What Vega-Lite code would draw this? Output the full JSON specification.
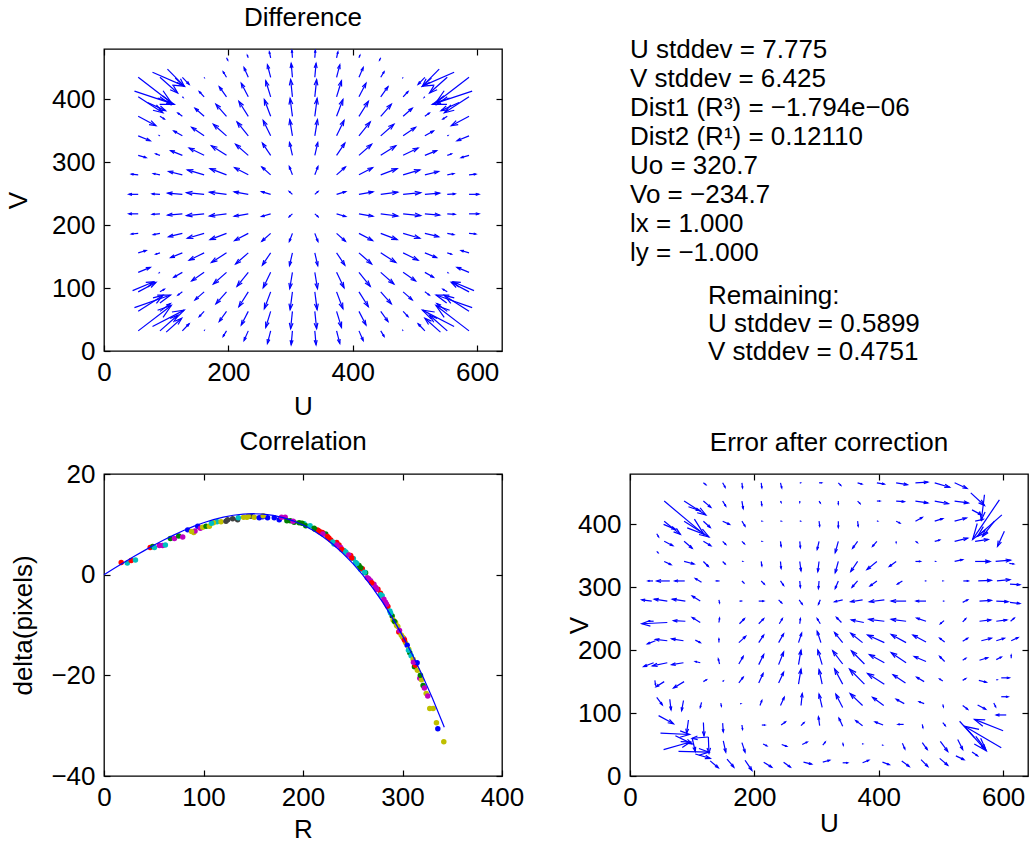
{
"$schema": "https://vega.github.io/schema/vega-lite/v6.json",
"background": "white",
"padding": {"left": 4, "top": 4, "right": 0, "bottom": 0},
"config": {
  "font": "Liberation Sans",
  "view": {"stroke": "black", "strokeWidth": 1.3},
  "axis": {"grid": false, "domain": false, "ticks": true, "tickSize": -6, "tickColor": "black", "tickWidth": 1.2, "labelFont": "Liberation Sans", "labelFontSize": 26, "labelColor": "black", "labelFlush": false, "labelOverlap": false, "titleFont": "Liberation Sans", "titleFontSize": 26, "titleFontWeight": "normal", "titleColor": "black"},
  "axisX": {"labelPadding": 14},
  "axisY": {"labelPadding": 15},
  "title": {"font": "Liberation Sans", "fontSize": 26, "fontWeight": "normal", "color": "black", "baseline": "alphabetic", "offset": 17, "frame": "group", "anchor": "middle"}
},
"datasets": {
"diff": [
{"x":303,"y":466,"x2":302.1,"y2":477.8},{"x":268,"y":466,"x2":265.9,"y2":475.3},{"x":232,"y":466,"x2":230.5,"y2":470},{"x":197,"y":466,"x2":198.9,"y2":462.4},{"x":339,"y":466,"x2":339.9,"y2":477.8},{"x":374,"y":466,"x2":376.1,"y2":475.3},{"x":410,"y":466,"x2":411.5,"y2":470},{"x":445,"y":466,"x2":443.1,"y2":462.4},
{"x":303,"y":435,"x2":301,"y2":457.1},{"x":268,"y":435,"x2":262.8,"y2":454.9},{"x":232,"y":435,"x2":225.2,"y2":450.4},{"x":197,"y":435,"x2":191.6,"y2":443.8},{"x":161,"y":435,"x2":161.2,"y2":434.7},{"x":126,"y":435,"x2":136.9,"y2":423.7},{"x":90,"y":435,"x2":118.5,"y2":410.1},{"x":55,"y":435,"x2":108.2,"y2":394.7},
{"x":339,"y":435,"x2":341,"y2":457.1},{"x":374,"y":435,"x2":379.2,"y2":454.9},{"x":410,"y":435,"x2":416.8,"y2":450.4},{"x":445,"y":435,"x2":450.4,"y2":443.8},{"x":481,"y":435,"x2":480.8,"y2":434.7},{"x":516,"y":435,"x2":505.1,"y2":423.7},{"x":552,"y":435,"x2":523.5,"y2":410.1},{"x":587,"y":435,"x2":533.8,"y2":394.7},
{"x":303,"y":404,"x2":300.1,"y2":431.4},{"x":268,"y":404,"x2":260.1,"y2":429.5},{"x":232,"y":404,"x2":220.7,"y2":425.7},{"x":197,"y":404,"x2":185.3,"y2":420.1},{"x":161,"y":404,"x2":153.1,"y2":412.4},{"x":126,"y":404,"x2":127,"y2":403.1},{"x":90,"y":404,"x2":106.8,"y2":391.6},{"x":55,"y":404,"x2":94.7,"y2":378.6},
{"x":339,"y":404,"x2":341.9,"y2":431.4},{"x":374,"y":404,"x2":381.9,"y2":429.5},{"x":410,"y":404,"x2":421.3,"y2":425.7},{"x":445,"y":404,"x2":456.7,"y2":420.1},{"x":481,"y":404,"x2":488.9,"y2":412.4},{"x":516,"y":404,"x2":515,"y2":403.1},{"x":552,"y":404,"x2":535.2,"y2":391.6},{"x":587,"y":404,"x2":547.3,"y2":378.6},
{"x":303,"y":373,"x2":299.3,"y2":401.3},{"x":268,"y":373,"x2":257.8,"y2":399.8},{"x":232,"y":373,"x2":216.9,"y2":396.6},{"x":197,"y":373,"x2":180,"y2":392.1},{"x":161,"y":373,"x2":146.3,"y2":385.8},{"x":126,"y":373,"x2":118.8,"y2":378.2},{"x":90,"y":373,"x2":97,"y2":368.8},{"x":55,"y":373,"x2":83.5,"y2":358.1},
{"x":339,"y":373,"x2":342.7,"y2":401.3},{"x":374,"y":373,"x2":384.2,"y2":399.8},{"x":410,"y":373,"x2":425.1,"y2":396.6},{"x":445,"y":373,"x2":462,"y2":392.1},{"x":481,"y":373,"x2":495.7,"y2":385.8},{"x":516,"y":373,"x2":523.2,"y2":378.2},{"x":552,"y":373,"x2":545,"y2":368.8},{"x":587,"y":373,"x2":558.5,"y2":358.1},
{"x":303,"y":342,"x2":298.7,"y2":367.7},{"x":268,"y":342,"x2":256,"y2":366.5},{"x":232,"y":342,"x2":213.9,"y2":364.1},{"x":197,"y":342,"x2":175.8,"y2":360.5},{"x":161,"y":342,"x2":140.9,"y2":355.6},{"x":126,"y":342,"x2":112.2,"y2":349.7},{"x":90,"y":342,"x2":89.2,"y2":342.4},{"x":55,"y":342,"x2":74.4,"y2":334.1},
{"x":339,"y":342,"x2":343.3,"y2":367.7},{"x":374,"y":342,"x2":386,"y2":366.5},{"x":410,"y":342,"x2":428.1,"y2":364.1},{"x":445,"y":342,"x2":466.2,"y2":360.5},{"x":481,"y":342,"x2":501.1,"y2":355.6},{"x":516,"y":342,"x2":529.8,"y2":349.7},{"x":552,"y":342,"x2":552.8,"y2":342.4},{"x":587,"y":342,"x2":567.6,"y2":334.1},
{"x":303,"y":311,"x2":298.3,"y2":331.3},{"x":268,"y":311,"x2":254.7,"y2":330.5},{"x":232,"y":311,"x2":211.6,"y2":328.7},{"x":197,"y":311,"x2":172.7,"y2":326.2},{"x":161,"y":311,"x2":136.9,"y2":322.7},{"x":126,"y":311,"x2":107.2,"y2":318.5},{"x":90,"y":311,"x2":83.3,"y2":313.2},{"x":55,"y":311,"x2":67.7,"y2":307.3},
{"x":339,"y":311,"x2":343.7,"y2":331.3},{"x":374,"y":311,"x2":387.3,"y2":330.5},{"x":410,"y":311,"x2":430.4,"y2":328.7},{"x":445,"y":311,"x2":469.3,"y2":326.2},{"x":481,"y":311,"x2":505.1,"y2":322.7},{"x":516,"y":311,"x2":534.8,"y2":318.5},{"x":552,"y":311,"x2":558.7,"y2":313.2},{"x":587,"y":311,"x2":574.3,"y2":307.3},
{"x":303,"y":280,"x2":298,"y2":293},{"x":268,"y":280,"x2":253.8,"y2":292.5},{"x":232,"y":280,"x2":210.1,"y2":291.4},{"x":197,"y":280,"x2":170.6,"y2":289.9},{"x":161,"y":280,"x2":134.1,"y2":287.8},{"x":126,"y":280,"x2":103.9,"y2":285.3},{"x":90,"y":280,"x2":79.4,"y2":282.1},{"x":55,"y":280,"x2":44,"y2":281},
{"x":339,"y":280,"x2":344,"y2":293},{"x":374,"y":280,"x2":388.2,"y2":292.5},{"x":410,"y":280,"x2":431.9,"y2":291.4},{"x":445,"y":280,"x2":471.4,"y2":289.9},{"x":481,"y":280,"x2":507.9,"y2":287.8},{"x":516,"y":280,"x2":538.1,"y2":285.3},{"x":552,"y":280,"x2":562.6,"y2":282.1},{"x":587,"y":280,"x2":598,"y2":281},
{"x":303,"y":249,"x2":297.8,"y2":253.5},{"x":268,"y":249,"x2":253.3,"y2":253.3},{"x":232,"y":249,"x2":209.4,"y2":252.9},{"x":197,"y":249,"x2":169.6,"y2":252.4},{"x":161,"y":249,"x2":132.8,"y2":251.7},{"x":126,"y":249,"x2":102.3,"y2":250.9},{"x":90,"y":249,"x2":77.5,"y2":249.8},{"x":55,"y":249,"x2":40,"y2":249},
{"x":339,"y":249,"x2":344.2,"y2":253.5},{"x":374,"y":249,"x2":388.7,"y2":253.3},{"x":410,"y":249,"x2":432.6,"y2":252.9},{"x":445,"y":249,"x2":472.4,"y2":252.4},{"x":481,"y":249,"x2":509.2,"y2":251.7},{"x":516,"y":249,"x2":539.7,"y2":250.9},{"x":552,"y":249,"x2":564.5,"y2":249.8},{"x":587,"y":249,"x2":603,"y2":249},
{"x":303,"y":218,"x2":297.8,"y2":213.5},{"x":268,"y":218,"x2":253.3,"y2":213.7},{"x":232,"y":218,"x2":209.4,"y2":214.1},{"x":197,"y":218,"x2":169.6,"y2":214.6},{"x":161,"y":218,"x2":132.8,"y2":215.3},{"x":126,"y":218,"x2":102.3,"y2":216.1},{"x":90,"y":218,"x2":77.5,"y2":217.2},{"x":55,"y":218,"x2":40,"y2":218},
{"x":339,"y":218,"x2":344.2,"y2":213.5},{"x":374,"y":218,"x2":388.7,"y2":213.7},{"x":410,"y":218,"x2":432.6,"y2":214.1},{"x":445,"y":218,"x2":472.4,"y2":214.6},{"x":481,"y":218,"x2":509.2,"y2":215.3},{"x":516,"y":218,"x2":539.7,"y2":216.1},{"x":552,"y":218,"x2":564.5,"y2":217.2},{"x":587,"y":218,"x2":603,"y2":218},
{"x":303,"y":187,"x2":298,"y2":174},{"x":268,"y":187,"x2":253.8,"y2":174.5},{"x":232,"y":187,"x2":210.1,"y2":175.6},{"x":197,"y":187,"x2":170.6,"y2":177.1},{"x":161,"y":187,"x2":134.1,"y2":179.2},{"x":126,"y":187,"x2":103.9,"y2":181.7},{"x":90,"y":187,"x2":79.4,"y2":184.9},{"x":55,"y":187,"x2":44,"y2":186},
{"x":339,"y":187,"x2":344,"y2":174},{"x":374,"y":187,"x2":388.2,"y2":174.5},{"x":410,"y":187,"x2":431.9,"y2":175.6},{"x":445,"y":187,"x2":471.4,"y2":177.1},{"x":481,"y":187,"x2":507.9,"y2":179.2},{"x":516,"y":187,"x2":538.1,"y2":181.7},{"x":552,"y":187,"x2":562.6,"y2":184.9},{"x":587,"y":187,"x2":598,"y2":186},
{"x":303,"y":156,"x2":298.3,"y2":135.7},{"x":268,"y":156,"x2":254.7,"y2":136.5},{"x":232,"y":156,"x2":211.6,"y2":138.3},{"x":197,"y":156,"x2":172.7,"y2":140.8},{"x":161,"y":156,"x2":136.9,"y2":144.3},{"x":126,"y":156,"x2":107.2,"y2":148.5},{"x":90,"y":156,"x2":83.3,"y2":153.8},{"x":55,"y":156,"x2":67.7,"y2":159.7},
{"x":339,"y":156,"x2":343.7,"y2":135.7},{"x":374,"y":156,"x2":387.3,"y2":136.5},{"x":410,"y":156,"x2":430.4,"y2":138.3},{"x":445,"y":156,"x2":469.3,"y2":140.8},{"x":481,"y":156,"x2":505.1,"y2":144.3},{"x":516,"y":156,"x2":534.8,"y2":148.5},{"x":552,"y":156,"x2":558.7,"y2":153.8},{"x":587,"y":156,"x2":574.3,"y2":159.7},
{"x":303,"y":125,"x2":298.7,"y2":99.3},{"x":268,"y":125,"x2":256,"y2":100.5},{"x":232,"y":125,"x2":213.9,"y2":102.9},{"x":197,"y":125,"x2":175.8,"y2":106.5},{"x":161,"y":125,"x2":140.9,"y2":111.4},{"x":126,"y":125,"x2":112.2,"y2":117.3},{"x":90,"y":125,"x2":89.2,"y2":124.6},{"x":55,"y":125,"x2":74.4,"y2":132.9},
{"x":339,"y":125,"x2":343.3,"y2":99.3},{"x":374,"y":125,"x2":386,"y2":100.5},{"x":410,"y":125,"x2":428.1,"y2":102.9},{"x":445,"y":125,"x2":466.2,"y2":106.5},{"x":481,"y":125,"x2":501.1,"y2":111.4},{"x":516,"y":125,"x2":529.8,"y2":117.3},{"x":552,"y":125,"x2":552.8,"y2":124.6},{"x":587,"y":125,"x2":567.6,"y2":132.9},
{"x":303,"y":94,"x2":299.3,"y2":65.7},{"x":268,"y":94,"x2":257.8,"y2":67.2},{"x":232,"y":94,"x2":216.9,"y2":70.4},{"x":197,"y":94,"x2":180,"y2":74.9},{"x":161,"y":94,"x2":146.3,"y2":81.2},{"x":126,"y":94,"x2":118.8,"y2":88.8},{"x":90,"y":94,"x2":97,"y2":98.2},{"x":55,"y":94,"x2":83.5,"y2":108.9},
{"x":339,"y":94,"x2":342.7,"y2":65.7},{"x":374,"y":94,"x2":384.2,"y2":67.2},{"x":410,"y":94,"x2":425.1,"y2":70.4},{"x":445,"y":94,"x2":462,"y2":74.9},{"x":481,"y":94,"x2":495.7,"y2":81.2},{"x":516,"y":94,"x2":523.2,"y2":88.8},{"x":552,"y":94,"x2":545,"y2":98.2},{"x":587,"y":94,"x2":558.5,"y2":108.9},
{"x":303,"y":63,"x2":300.1,"y2":35.6},{"x":268,"y":63,"x2":260.1,"y2":37.5},{"x":232,"y":63,"x2":220.7,"y2":41.3},{"x":197,"y":63,"x2":185.3,"y2":46.9},{"x":161,"y":63,"x2":153.1,"y2":54.6},{"x":126,"y":63,"x2":127,"y2":63.9},{"x":90,"y":63,"x2":106.8,"y2":75.4},{"x":55,"y":63,"x2":94.7,"y2":88.4},
{"x":339,"y":63,"x2":341.9,"y2":35.6},{"x":374,"y":63,"x2":381.9,"y2":37.5},{"x":410,"y":63,"x2":421.3,"y2":41.3},{"x":445,"y":63,"x2":456.7,"y2":46.9},{"x":481,"y":63,"x2":488.9,"y2":54.6},{"x":516,"y":63,"x2":515,"y2":63.9},{"x":552,"y":63,"x2":535.2,"y2":75.4},{"x":587,"y":63,"x2":547.3,"y2":88.4},
{"x":303,"y":32,"x2":301,"y2":9.9},{"x":268,"y":32,"x2":262.8,"y2":12.1},{"x":232,"y":32,"x2":225.2,"y2":16.6},{"x":197,"y":32,"x2":191.6,"y2":23.2},{"x":161,"y":32,"x2":161.2,"y2":32.3},{"x":126,"y":32,"x2":136.9,"y2":43.3},{"x":90,"y":32,"x2":118.5,"y2":56.9},{"x":55,"y":32,"x2":108.2,"y2":72.3},
{"x":339,"y":32,"x2":341,"y2":9.9},{"x":374,"y":32,"x2":379.2,"y2":12.1},{"x":410,"y":32,"x2":416.8,"y2":16.6},{"x":445,"y":32,"x2":450.4,"y2":23.2},{"x":481,"y":32,"x2":480.8,"y2":32.3},{"x":516,"y":32,"x2":505.1,"y2":43.3},{"x":552,"y":32,"x2":523.5,"y2":56.9},{"x":587,"y":32,"x2":533.8,"y2":72.3},
{"x":78,"y":443,"x2":129,"y2":421},{"x":102,"y":448,"x2":129,"y2":421},{"x":49,"y":413,"x2":113,"y2":392},{"x":70,"y":395,"x2":99,"y2":382},
{"x":563,"y":443,"x2":512,"y2":421},{"x":539,"y":448,"x2":512,"y2":421},{"x":592,"y":413,"x2":528,"y2":392},{"x":571,"y":395,"x2":542,"y2":382},
{"x":78,"y":39,"x2":129,"y2":65},{"x":49,"y":69,"x2":107,"y2":89},{"x":46,"y":96,"x2":80,"y2":110},{"x":100,"y":30,"x2":125,"y2":52},
{"x":563,"y":39,"x2":512,"y2":65},{"x":592,"y":69,"x2":534,"y2":89},{"x":595,"y":96,"x2":561,"y2":110},{"x":541,"y":30,"x2":516,"y2":52}
],
"err": [
{"x":118,"y":466,"x2":122,"y2":463},{"x":149,"y":466,"x2":153,"y2":459},{"x":180,"y":466,"x2":181,"y2":458},{"x":211,"y":466,"x2":212,"y2":458},{"x":242,"y":466,"x2":244,"y2":458},{"x":273,"y":466,"x2":274,"y2":466},{"x":304,"y":466,"x2":308,"y2":466},{"x":335,"y":466,"x2":339,"y2":462},{"x":366,"y":466,"x2":373,"y2":464},{"x":397,"y":466,"x2":409,"y2":464},{"x":428,"y":466,"x2":446,"y2":463},{"x":459,"y":466,"x2":479,"y2":467},{"x":490,"y":466,"x2":514,"y2":459},{"x":522,"y":466,"x2":542,"y2":457},{"x":548,"y":450,"x2":570,"y2":430},
{"x":55,"y":437,"x2":119,"y2":384},{"x":87,"y":437,"x2":122,"y2":415},{"x":118,"y":437,"x2":130,"y2":427},{"x":149,"y":437,"x2":154,"y2":429},{"x":180,"y":437,"x2":182,"y2":425},{"x":211,"y":437,"x2":212,"y2":430},{"x":242,"y":437,"x2":243,"y2":435},{"x":273,"y":437,"x2":273,"y2":435},{"x":304,"y":437,"x2":306,"y2":434},{"x":335,"y":437,"x2":335,"y2":432},{"x":366,"y":437,"x2":370,"y2":433},{"x":397,"y":437,"x2":402,"y2":437},{"x":428,"y":437,"x2":441,"y2":436},{"x":459,"y":437,"x2":479,"y2":434},{"x":490,"y":437,"x2":512,"y2":433},{"x":522,"y":437,"x2":544,"y2":434},{"x":570,"y":447,"x2":565,"y2":407},{"x":594,"y":439,"x2":551,"y2":376},{"x":550,"y":423,"x2":565,"y2":415},
{"x":55,"y":405,"x2":81,"y2":384},{"x":87,"y":405,"x2":127,"y2":380},{"x":118,"y":405,"x2":129,"y2":395},{"x":149,"y":405,"x2":160,"y2":400},{"x":180,"y":405,"x2":185,"y2":397},{"x":211,"y":405,"x2":212,"y2":405},{"x":242,"y":405,"x2":243,"y2":405},{"x":273,"y":405,"x2":274,"y2":405},{"x":304,"y":405,"x2":305,"y2":397},{"x":335,"y":405,"x2":335,"y2":395},{"x":366,"y":405,"x2":367,"y2":397},{"x":397,"y":405,"x2":398,"y2":405},{"x":428,"y":405,"x2":434,"y2":402},{"x":459,"y":405,"x2":470,"y2":411},{"x":490,"y":405,"x2":503,"y2":409},{"x":522,"y":405,"x2":541,"y2":410},{"x":555,"y":405,"x2":568,"y2":408},{"x":598,"y":415,"x2":559,"y2":381},{"x":586,"y":405,"x2":567,"y2":381},{"x":54,"y":400,"x2":73,"y2":392},{"x":94,"y":428,"x2":112,"y2":422},
{"x":43,"y":385,"x2":46,"y2":380},{"x":55,"y":373,"x2":69,"y2":366},{"x":87,"y":373,"x2":100,"y2":362},{"x":118,"y":373,"x2":130,"y2":366},{"x":149,"y":373,"x2":154,"y2":368},{"x":180,"y":373,"x2":184,"y2":369},{"x":211,"y":373,"x2":212,"y2":373},{"x":242,"y":373,"x2":243,"y2":365},{"x":273,"y":373,"x2":274,"y2":363},{"x":304,"y":373,"x2":301,"y2":360},{"x":335,"y":373,"x2":330,"y2":355},{"x":366,"y":373,"x2":358,"y2":362},{"x":397,"y":373,"x2":390,"y2":365},{"x":428,"y":373,"x2":428,"y2":371},{"x":459,"y":373,"x2":462,"y2":371},{"x":490,"y":373,"x2":498,"y2":375},{"x":522,"y":373,"x2":543,"y2":378},{"x":555,"y":373,"x2":576,"y2":376},{"x":602,"y":389,"x2":591,"y2":365},
{"x":43,"y":357,"x2":45,"y2":355},{"x":55,"y":341,"x2":66,"y2":336},{"x":87,"y":341,"x2":103,"y2":337},{"x":118,"y":341,"x2":126,"y2":333},{"x":149,"y":341,"x2":153,"y2":337},{"x":180,"y":341,"x2":181,"y2":341},{"x":211,"y":341,"x2":212,"y2":334},{"x":242,"y":341,"x2":243,"y2":330},{"x":273,"y":341,"x2":275,"y2":326},{"x":304,"y":341,"x2":302,"y2":325},{"x":335,"y":341,"x2":330,"y2":323},{"x":366,"y":341,"x2":355,"y2":325},{"x":397,"y":341,"x2":381,"y2":328},{"x":428,"y":341,"x2":417,"y2":333},{"x":459,"y":341,"x2":467,"y2":341},{"x":490,"y":341,"x2":491,"y2":341},{"x":522,"y":341,"x2":535,"y2":344},{"x":555,"y":341,"x2":579,"y2":341},{"x":588,"y":341,"x2":612,"y2":343},{"x":610,"y":338,"x2":617,"y2":337},
{"x":37,"y":310,"x2":29,"y2":310},{"x":64,"y":310,"x2":43,"y2":310},{"x":88,"y":310,"x2":72,"y2":310},{"x":115,"y":308,"x2":105,"y2":314},{"x":144,"y":310,"x2":139,"y2":310},{"x":180,"y":310,"x2":183,"y2":307},{"x":211,"y":310,"x2":216,"y2":305},{"x":242,"y":310,"x2":247,"y2":303},{"x":273,"y":310,"x2":274,"y2":300},{"x":304,"y":310,"x2":303,"y2":298},{"x":335,"y":310,"x2":330,"y2":298},{"x":366,"y":310,"x2":357,"y2":300},{"x":397,"y":310,"x2":386,"y2":302},{"x":438,"y":310,"x2":430,"y2":305},{"x":474,"y":310,"x2":475,"y2":310},{"x":502,"y":310,"x2":503,"y2":310},{"x":536,"y":310,"x2":544,"y2":310},{"x":560,"y":310,"x2":581,"y2":311},{"x":590,"y":310,"x2":611,"y2":312},{"x":611,"y":305,"x2":627,"y2":304},
{"x":35,"y":278,"x2":19,"y2":280},{"x":60,"y":278,"x2":39,"y2":281},{"x":89,"y":278,"x2":68,"y2":281},{"x":113,"y":278,"x2":100,"y2":286},{"x":143,"y":280,"x2":144,"y2":275},{"x":176,"y":278,"x2":179,"y2":278},{"x":207,"y":278,"x2":215,"y2":278},{"x":239,"y":280,"x2":244,"y2":275},{"x":272,"y":280,"x2":277,"y2":273},{"x":306,"y":280,"x2":303,"y2":273},{"x":342,"y":280,"x2":329,"y2":277},{"x":374,"y":280,"x2":355,"y2":277},{"x":409,"y":280,"x2":385,"y2":277},{"x":444,"y":278,"x2":420,"y2":278},{"x":476,"y":278,"x2":460,"y2":278},{"x":503,"y":278,"x2":504,"y2":278},{"x":535,"y":276,"x2":543,"y2":280},{"x":562,"y":278,"x2":581,"y2":279},{"x":589,"y":278,"x2":608,"y2":277},{"x":611,"y":276,"x2":627,"y2":274},
{"x":60,"y":244,"x2":19,"y2":242},{"x":38,"y":246,"x2":30,"y2":246},{"x":89,"y":246,"x2":70,"y2":247},{"x":113,"y":244,"x2":100,"y2":252},{"x":143,"y":244,"x2":144,"y2":251},{"x":176,"y":242,"x2":184,"y2":250},{"x":207,"y":242,"x2":215,"y2":250},{"x":240,"y":242,"x2":245,"y2":250},{"x":273,"y":242,"x2":274,"y2":250},{"x":306,"y":242,"x2":301,"y2":250},{"x":340,"y":244,"x2":332,"y2":252},{"x":376,"y":244,"x2":356,"y2":248},{"x":409,"y":246,"x2":384,"y2":249},{"x":444,"y":246,"x2":420,"y2":249},{"x":476,"y":246,"x2":461,"y2":251},{"x":505,"y":247,"x2":499,"y2":242},{"x":535,"y":245,"x2":540,"y2":250},{"x":562,"y":246,"x2":580,"y2":248},{"x":589,"y":246,"x2":606,"y2":248},{"x":612,"y":246,"x2":618,"y2":251},
{"x":41,"y":215,"x2":28,"y2":210},{"x":60,"y":215,"x2":41,"y2":217},{"x":86,"y":215,"x2":67,"y2":218},{"x":105,"y":216,"x2":113,"y2":212},{"x":143,"y":212,"x2":143,"y2":218},{"x":175,"y":212,"x2":186,"y2":222},{"x":207,"y":212,"x2":215,"y2":224},{"x":239,"y":212,"x2":247,"y2":226},{"x":271,"y":212,"x2":276,"y2":227},{"x":307,"y":212,"x2":301,"y2":230},{"x":342,"y":212,"x2":329,"y2":228},{"x":374,"y":212,"x2":355,"y2":227},{"x":409,"y":212,"x2":382,"y2":224},{"x":444,"y":212,"x2":420,"y2":225},{"x":476,"y":213,"x2":455,"y2":224},{"x":506,"y":213,"x2":498,"y2":219},{"x":535,"y":214,"x2":543,"y2":219},{"x":565,"y":215,"x2":581,"y2":219},{"x":589,"y":215,"x2":602,"y2":219},{"x":613,"y":215,"x2":624,"y2":220},
{"x":38,"y":180,"x2":22,"y2":174},{"x":60,"y":180,"x2":36,"y2":175},{"x":86,"y":180,"x2":67,"y2":177},{"x":113,"y":180,"x2":105,"y2":182},{"x":144,"y":178,"x2":142,"y2":186},{"x":175,"y":178,"x2":182,"y2":190},{"x":207,"y":177,"x2":215,"y2":193},{"x":239,"y":177,"x2":247,"y2":197},{"x":271,"y":177,"x2":275,"y2":200},{"x":309,"y":177,"x2":302,"y2":200},{"x":342,"y":178,"x2":326,"y2":199},{"x":377,"y":178,"x2":356,"y2":199},{"x":409,"y":180,"x2":385,"y2":193},{"x":444,"y":180,"x2":420,"y2":196},{"x":476,"y":182,"x2":457,"y2":190},{"x":506,"y":182,"x2":498,"y2":190},{"x":535,"y":184,"x2":540,"y2":187},{"x":562,"y":184,"x2":575,"y2":188},{"x":589,"y":185,"x2":597,"y2":189},{"x":613,"y":187,"x2":613,"y2":192},
{"x":40,"y":152,"x2":41,"y2":145},{"x":55,"y":150,"x2":42,"y2":142},{"x":87,"y":150,"x2":70,"y2":140},{"x":118,"y":150,"x2":123,"y2":153},{"x":149,"y":150,"x2":150,"y2":151},{"x":175,"y":148,"x2":182,"y2":157},{"x":207,"y":148,"x2":214,"y2":163},{"x":239,"y":148,"x2":247,"y2":165},{"x":271,"y":146,"x2":275,"y2":170},{"x":309,"y":146,"x2":304,"y2":169},{"x":342,"y":146,"x2":329,"y2":170},{"x":377,"y":146,"x2":353,"y2":170},{"x":409,"y":146,"x2":382,"y2":163},{"x":443,"y":148,"x2":423,"y2":161},{"x":473,"y":150,"x2":461,"y2":157},{"x":503,"y":151,"x2":498,"y2":154},{"x":535,"y":152,"x2":540,"y2":155},{"x":561,"y":152,"x2":573,"y2":149},{"x":589,"y":153,"x2":590,"y2":153},{"x":597,"y":156,"x2":610,"y2":156},
{"x":43,"y":125,"x2":52,"y2":113},{"x":64,"y":122,"x2":66,"y2":105},{"x":86,"y":120,"x2":83,"y2":104},{"x":115,"y":117,"x2":113,"y2":109},{"x":146,"y":116,"x2":147,"y2":111},{"x":177,"y":115,"x2":178,"y2":115},{"x":209,"y":112,"x2":212,"y2":120},{"x":242,"y":112,"x2":248,"y2":125},{"x":275,"y":112,"x2":277,"y2":131},{"x":309,"y":109,"x2":304,"y2":130},{"x":342,"y":109,"x2":331,"y2":130},{"x":374,"y":112,"x2":354,"y2":131},{"x":408,"y":112,"x2":390,"y2":125},{"x":441,"y":115,"x2":428,"y2":122},{"x":473,"y":115,"x2":465,"y2":118},{"x":503,"y":114,"x2":504,"y2":110},{"x":535,"y":112,"x2":543,"y2":106},{"x":559,"y":113,"x2":572,"y2":106},{"x":585,"y":116,"x2":588,"y2":110},{"x":597,"y":126,"x2":608,"y2":126},
{"x":46,"y":96,"x2":70,"y2":83},{"x":94,"y":89,"x2":91,"y2":68},{"x":118,"y":85,"x2":119,"y2":64},{"x":149,"y":84,"x2":150,"y2":70},{"x":180,"y":81,"x2":181,"y2":74},{"x":212,"y":81,"x2":217,"y2":81},{"x":243,"y":81,"x2":250,"y2":86},{"x":275,"y":80,"x2":280,"y2":85},{"x":305,"y":80,"x2":303,"y2":94},{"x":342,"y":79,"x2":336,"y2":92},{"x":374,"y":80,"x2":363,"y2":88},{"x":407,"y":81,"x2":394,"y2":86},{"x":440,"y":82,"x2":431,"y2":82},{"x":470,"y":82,"x2":471,"y2":77},{"x":503,"y":85,"x2":507,"y2":80},{"x":605,"y":97,"x2":589,"y2":97},{"x":600,"y":72,"x2":554,"y2":90},{"x":597,"y":45,"x2":538,"y2":79},{"x":530,"y":87,"x2":573,"y2":40},
{"x":49,"y":68,"x2":96,"y2":66},{"x":73,"y":64,"x2":100,"y2":51},{"x":54,"y":42,"x2":97,"y2":54},{"x":78,"y":39,"x2":127,"y2":38},{"x":126,"y":62,"x2":100,"y2":60},{"x":126,"y":62,"x2":127,"y2":36},{"x":100,"y":60,"x2":105,"y2":39},{"x":150,"y":56,"x2":154,"y2":38},{"x":180,"y":53,"x2":185,"y2":38},{"x":214,"y":51,"x2":220,"y2":48},{"x":244,"y":50,"x2":252,"y2":47},{"x":277,"y":50,"x2":285,"y2":54},{"x":310,"y":49,"x2":314,"y2":54},{"x":342,"y":53,"x2":343,"y2":49},{"x":373,"y":51,"x2":374,"y2":51},{"x":405,"y":49,"x2":406,"y2":49},{"x":438,"y":52,"x2":442,"y2":43},{"x":470,"y":53,"x2":478,"y2":42},{"x":499,"y":55,"x2":511,"y2":39},{"x":527,"y":58,"x2":535,"y2":42},{"x":556,"y":63,"x2":572,"y2":42},
{"x":105,"y":35,"x2":129,"y2":28},{"x":129,"y":24,"x2":142,"y2":13},{"x":156,"y":27,"x2":167,"y2":14},{"x":185,"y":25,"x2":196,"y2":9},{"x":215,"y":22,"x2":228,"y2":14},{"x":247,"y":22,"x2":258,"y2":14},{"x":279,"y":22,"x2":292,"y2":19},{"x":310,"y":22,"x2":321,"y2":25},{"x":342,"y":21,"x2":350,"y2":21},{"x":374,"y":21,"x2":384,"y2":25},{"x":406,"y":22,"x2":417,"y2":18},{"x":437,"y":24,"x2":449,"y2":15},{"x":468,"y":26,"x2":479,"y2":15},{"x":498,"y":28,"x2":511,"y2":17},{"x":524,"y":32,"x2":537,"y2":26},{"x":550,"y":38,"x2":559,"y2":32}
],
"corr": [
{"R":17.3,"d":2.4,"c":"r"},{"R":23.4,"d":2.3,"c":"c"},{"R":27.3,"d":2.8,"c":"r"},{"R":31.6,"d":2.9,"c":"c"},{"R":46.4,"d":5.4,"c":"r"},{"R":49,"d":5.6,"c":"g"},{"R":50.7,"d":5.4,"c":"c"},{"R":55.7,"d":5.8,"c":"m"},{"R":59,"d":5.8,"c":"m"},{"R":61.7,"d":5.9,"c":"c"},
{"R":66.7,"d":7.2,"c":"g"},{"R":70.8,"d":7.2,"c":"m"},{"R":75.1,"d":7.7,"c":"g"},{"R":79.1,"d":7.5,"c":"m"},{"R":84.1,"d":8.9,"c":"b"},{"R":90.2,"d":8.4,"c":"y"},{"R":91.5,"d":8.7,"c":"m"},{"R":94.2,"d":9.6,"c":"b"},{"R":96.9,"d":9.2,"c":"m"},{"R":99.2,"d":9.4,"c":"y"},
{"R":102.6,"d":9.6,"c":"g"},{"R":105.9,"d":9.6,"c":"y"},{"R":113.6,"d":10.5,"c":"c"},{"R":117.6,"d":10.5,"c":"y"},{"R":122.6,"d":10.6,"c":"k"},{"R":124.3,"d":10.9,"c":"k"},{"R":129.3,"d":11.1,"c":"k"},{"R":134.3,"d":10.9,"c":"k"},{"R":140.3,"d":11.4,"c":"y"},{"R":143.7,"d":11.4,"c":"y"},
{"R":147.7,"d":11.6,"c":"k"},{"R":151,"d":11.4,"c":"y"},{"R":156,"d":11.3,"c":"b"},{"R":159.4,"d":11.5,"c":"b"},{"R":164.4,"d":11.3,"c":"b"},{"R":171.1,"d":11.3,"c":"b"},{"R":176.1,"d":10.9,"c":"b"},{"R":178.4,"d":11.4,"c":"m"},{"R":182.1,"d":11.4,"c":"m"},{"R":183.8,"d":10.7,"c":"g"},
{"R":187.1,"d":10.7,"c":"g"},{"R":191.1,"d":10.4,"c":"g"},{"R":196.1,"d":10.3,"c":"g"},{"R":201.1,"d":10.1,"c":"c"},{"R":202.8,"d":9.7,"c":"g"},{"R":207.1,"d":9.7,"c":"c"},{"R":211.2,"d":9.2,"c":"g"},{"R":214.5,"d":8.9,"c":"r"},{"R":217.2,"d":8.5,"c":"r"},{"R":219.5,"d":8.4,"c":"r"},
{"R":222.8,"d":8.1,"c":"g"},{"R":224.5,"d":7.6,"c":"r"},{"R":227.9,"d":6.9,"c":"r"},{"R":231.2,"d":6.1,"c":"c"},{"R":233.9,"d":6.4,"c":"r"},{"R":236.2,"d":5.9,"c":"r"},{"R":237.9,"d":5.4,"c":"m"},{"R":241.2,"d":4.8,"c":"c"},{"R":244.6,"d":4.1,"c":"y"},{"R":247.9,"d":3.8,"c":"r"},
{"R":250.6,"d":3.2,"c":"c"},{"R":252.9,"d":2.4,"c":"c"},{"R":256.3,"d":1.8,"c":"g"},{"R":257.9,"d":1.1,"c":"c"},{"R":259.6,"d":1.2,"c":"r"},{"R":262.9,"d":0.4,"c":"g"},{"R":264.6,"d":-0.6,"c":"m"},{"R":267.9,"d":-1.2,"c":"m"},{"R":271.3,"d":-1.9,"c":"m"},{"R":272.9,"d":-2.5,"c":"m"},
{"R":275.3,"d":-2.9,"c":"r"},{"R":277.9,"d":-3.7,"c":"r"},{"R":279.6,"d":-4.2,"c":"c"},{"R":281.3,"d":-4.9,"c":"m"},{"R":282.9,"d":-5.5,"c":"m"},{"R":285.3,"d":-6.3,"c":"r"},{"R":287.3,"d":-7.2,"c":"c"},{"R":289.6,"d":-8.2,"c":"g"},{"R":290.6,"d":-9,"c":"y"},{"R":293,"d":-9.5,"c":"y"},
{"R":295.3,"d":-10.3,"c":"y"},{"R":296.3,"d":-11.4,"c":"r"},{"R":298.7,"d":-12,"c":"y"},{"R":301.3,"d":-12.7,"c":"m"},{"R":303,"d":-13.5,"c":"y"},{"R":304.7,"d":-14,"c":"b"},{"R":306.3,"d":-14.8,"c":"y"},{"R":307.3,"d":-15.5,"c":"g"},{"R":308.7,"d":-16.1,"c":"c"},{"R":310.7,"d":-16.8,"c":"y"},
{"R":312,"d":-18.3,"c":"g"},{"R":313,"d":-18,"c":"r"},{"R":314.7,"d":-17.5,"c":"b"},{"R":317.4,"d":-20.6,"c":"m"},{"R":319.1,"d":-20.9,"c":"y"},{"R":320.7,"d":-22,"c":"g"},{"R":323.8,"d":-23.6,"c":"y"},{"R":325.4,"d":-24.1,"c":"m"},{"R":327.4,"d":-26.6,"c":"y"},{"R":330.8,"d":-26.6,"c":"y"},
{"R":334.1,"d":-29.4,"c":"y"},{"R":335.5,"d":-30.6,"c":"b"},{"R":341.5,"d":-33.2,"c":"y"},
{"R":212,"d":9.0,"c":"g"},{"R":216,"d":8.7,"c":"r"},{"R":220,"d":8.1,"c":"m"},{"R":226,"d":7.3,"c":"r"},{"R":230,"d":6.5,"c":"c"},{"R":234,"d":5.9,"c":"m"},{"R":239,"d":5.0,"c":"r"},{"R":243,"d":4.5,"c":"c"},{"R":246,"d":3.9,"c":"m"},{"R":249,"d":3.3,"c":"r"},
{"R":254,"d":2.2,"c":"c"},{"R":258,"d":1.4,"c":"g"},{"R":262,"d":0.5,"c":"c"},{"R":266,"d":-0.8,"c":"m"},{"R":269,"d":-1.6,"c":"r"},{"R":274,"d":-2.9,"c":"m"},{"R":278,"d":-4.0,"c":"c"},{"R":284,"d":-5.9,"c":"m"},{"R":288,"d":-7.6,"c":"c"},{"R":292,"d":-9.3,"c":"g"},
{"R":294,"d":-10.1,"c":"y"},{"R":297,"d":-11.1,"c":"m"},{"R":300,"d":-12.4,"c":"y"},{"R":302,"d":-13.0,"c":"r"},{"R":306,"d":-15.0,"c":"c"},{"R":311,"d":-17.4,"c":"m"},{"R":315,"d":-19.0,"c":"y"},{"R":318,"d":-20.0,"c":"g"},{"R":322,"d":-22.5,"c":"m"},{"R":145,"d":11.6,"c":"y"},
{"R":135,"d":11.3,"c":"c"},{"R":110,"d":10.3,"c":"y"},{"R":88,"d":8.6,"c":"y"},{"R":108,"d":10.2,"c":"c"},{"R":160,"d":11.7,"c":"y"},{"R":190,"d":10.6,"c":"m"},{"R":199,"d":10.2,"c":"g"}
],
"fit": [
{"R":0,"d":0},{"R":10,"d":1.21},{"R":20,"d":2.41},{"R":30,"d":3.59},{"R":40,"d":4.73},{"R":50,"d":5.83},{"R":60,"d":6.88},{"R":70,"d":7.86},{"R":80,"d":8.77},{"R":90,"d":9.59},{"R":100,"d":10.32},{"R":110,"d":10.93},{"R":120,"d":11.43},{"R":130,"d":11.8},{"R":140,"d":12.03},{"R":150,"d":12.11},{"R":160,"d":12.03},{"R":170,"d":11.77},{"R":180,"d":11.34},{"R":190,"d":10.7},{"R":200,"d":9.87},{"R":210,"d":8.82},{"R":220,"d":7.54},{"R":230,"d":6.03},{"R":240,"d":4.26},{"R":250,"d":2.24},{"R":260,"d":-0.05},{"R":270,"d":-2.61},{"R":280,"d":-5.47},{"R":290,"d":-8.64},{"R":300,"d":-12.11},{"R":310,"d":-15.9},{"R":320,"d":-20.03},{"R":330,"d":-24.51},{"R":340,"d":-29.34},{"R":342,"d":-30.3}
],
"info": [
{"label":"U stddev = 7.775","indent":0,"line":0},
{"label":"V stddev = 6.425","indent":0,"line":1},
{"label":"Dist1 (R³) = −1.794e−06","indent":0,"line":2},
{"label":"Dist2 (R¹) = 0.12110","indent":0,"line":3},
{"label":"Uo = 320.7","indent":0,"line":4},
{"label":"Vo = −234.7","indent":0,"line":5},
{"label":"lx = 1.000","indent":0,"line":6},
{"label":"ly = −1.000","indent":0,"line":7},
{"label":"Remaining:","indent":1,"line":8.5},
{"label":"U stddev = 0.5899","indent":1,"line":9.45},
{"label":"V stddev = 0.4751","indent":1,"line":10.4}
]
},
"concat": [
{
 "width": 398, "height": 302,
 "title": {"text": "Difference", "offset": 17},
 "data": {"name": "diff"},
 "layer": [
  {"mark": {"type": "rule", "color": "#0000ff", "strokeWidth": 1.2, "clip": true},
   "encoding": {
    "x": {"field": "x", "type": "quantitative", "scale": {"domain": [0, 640], "nice": false, "zero": false}, "axis": {"values": [0, 200, 400, 600], "title": "U", "titleY": 63, "titleBaseline": "alphabetic"}},
    "y": {"field": "y", "type": "quantitative", "scale": {"domain": [0, 480], "nice": false, "zero": false}, "axis": {"values": [0, 100, 200, 300, 400], "title": "V", "titleX": -86, "titleBaseline": "middle"}},
    "x2": {"field": "x2"}, "y2": {"field": "y2"}}},
  {"mark": {"type": "point", "shape": "M-0.33,1L0,0L0.33,1", "filled": false, "color": "#0000ff", "strokeWidth": 1.2, "opacity": 1, "clip": true,
     "angle": {"expr": "atan2(datum.x2-datum.x, datum.y2-datum.y)*180/PI"},
     "size": {"expr": "0.17*(pow(datum.x2-datum.x,2)+pow(datum.y2-datum.y,2))"}},
   "encoding": {
    "x": {"field": "x2", "type": "quantitative", "axis": {"orient": "top", "values": [0, 200, 400, 600], "labels": false, "title": null}},
    "y": {"field": "y2", "type": "quantitative", "axis": {"orient": "right", "values": [0, 100, 200, 300, 400], "labels": false, "title": null}}}}
 ],
 "resolve": {"axis": {"x": "independent", "y": "independent"}}
},
{
 "width": 398, "height": 302,
 "view": {"stroke": null},
 "data": {"name": "info"},
 "mark": {"type": "text", "align": "left", "baseline": "middle", "fontSize": 26, "font": "Liberation Sans", "color": "black"},
 "encoding": {
  "x": {"field": "indent", "type": "quantitative", "scale": {"domain": [0, 5.1], "nice": false, "zero": false}, "axis": null},
  "y": {"field": "line", "type": "quantitative", "scale": {"domain": [-0.03, 10.38], "nice": false, "zero": false, "reverse": true}, "axis": null},
  "text": {"field": "label"}
 }
},
{
 "width": 398, "height": 302,
 "title": {"text": "Correlation", "offset": 6},
 "layer": [
  {"data": {"name": "corr"}, "mark": {"type": "circle", "size": 30, "opacity": 1},
   "encoding": {
    "x": {"field": "R", "type": "quantitative", "scale": {"domain": [0, 400], "nice": false, "zero": false}, "axis": {"values": [0, 100, 200, 300, 400], "title": "R", "titleY": 61, "titleBaseline": "alphabetic"}},
    "y": {"field": "d", "type": "quantitative", "scale": {"domain": [-40, 20], "nice": false, "zero": false}, "axis": {"values": [-40, -20, 0, 20], "title": "delta(pixels)", "titleX": -81, "titleBaseline": "middle"}},
    "color": {"field": "c", "type": "nominal", "scale": {"domain": ["r", "g", "b", "c", "m", "y", "k"], "range": ["#ff0000", "#008000", "#0000ff", "#00bfbf", "#bf00bf", "#bfbf00", "#404040"]}, "legend": null}}},
  {"data": {"name": "fit"}, "mark": {"type": "line", "color": "#0000ff", "strokeWidth": 1.2},
   "encoding": {
    "x": {"field": "R", "type": "quantitative", "axis": {"orient": "top", "values": [0, 100, 200, 300, 400], "labels": false, "title": null}},
    "y": {"field": "d", "type": "quantitative", "axis": {"orient": "right", "values": [-40, -20, 0, 20], "labels": false, "title": null}}}}
 ],
 "resolve": {"axis": {"x": "independent", "y": "independent"}}
},
{
 "width": 398, "height": 302,
 "title": {"text": "Error after correction", "offset": 17},
 "data": {"name": "err"},
 "layer": [
  {"mark": {"type": "rule", "color": "#0000ff", "strokeWidth": 1.2, "clip": true},
   "encoding": {
    "x": {"field": "x", "type": "quantitative", "scale": {"domain": [0, 640], "nice": false, "zero": false}, "axis": {"values": [0, 200, 400, 600], "title": "U", "titleY": 55, "titleBaseline": "alphabetic"}},
    "y": {"field": "y", "type": "quantitative", "scale": {"domain": [0, 480], "nice": false, "zero": false}, "axis": {"values": [0, 100, 200, 300, 400], "title": "V", "titleX": -51, "titleBaseline": "middle"}},
    "x2": {"field": "x2"}, "y2": {"field": "y2"}}},
  {"mark": {"type": "point", "shape": "M-0.33,1L0,0L0.33,1", "filled": false, "color": "#0000ff", "strokeWidth": 1.2, "opacity": 1, "clip": true,
     "angle": {"expr": "atan2(datum.x2-datum.x, datum.y2-datum.y)*180/PI"},
     "size": {"expr": "0.17*(pow(datum.x2-datum.x,2)+pow(datum.y2-datum.y,2))"}},
   "encoding": {
    "x": {"field": "x2", "type": "quantitative", "axis": {"orient": "top", "values": [0, 200, 400, 600], "labels": false, "title": null}},
    "y": {"field": "y2", "type": "quantitative", "axis": {"orient": "right", "values": [0, 100, 200, 300, 400], "labels": false, "title": null}}}}
 ],
 "resolve": {"axis": {"x": "independent", "y": "independent"}}
}
],
"columns": 2,
"spacing": {"row": 123, "column": 128},
"bounds": "flush"
}
